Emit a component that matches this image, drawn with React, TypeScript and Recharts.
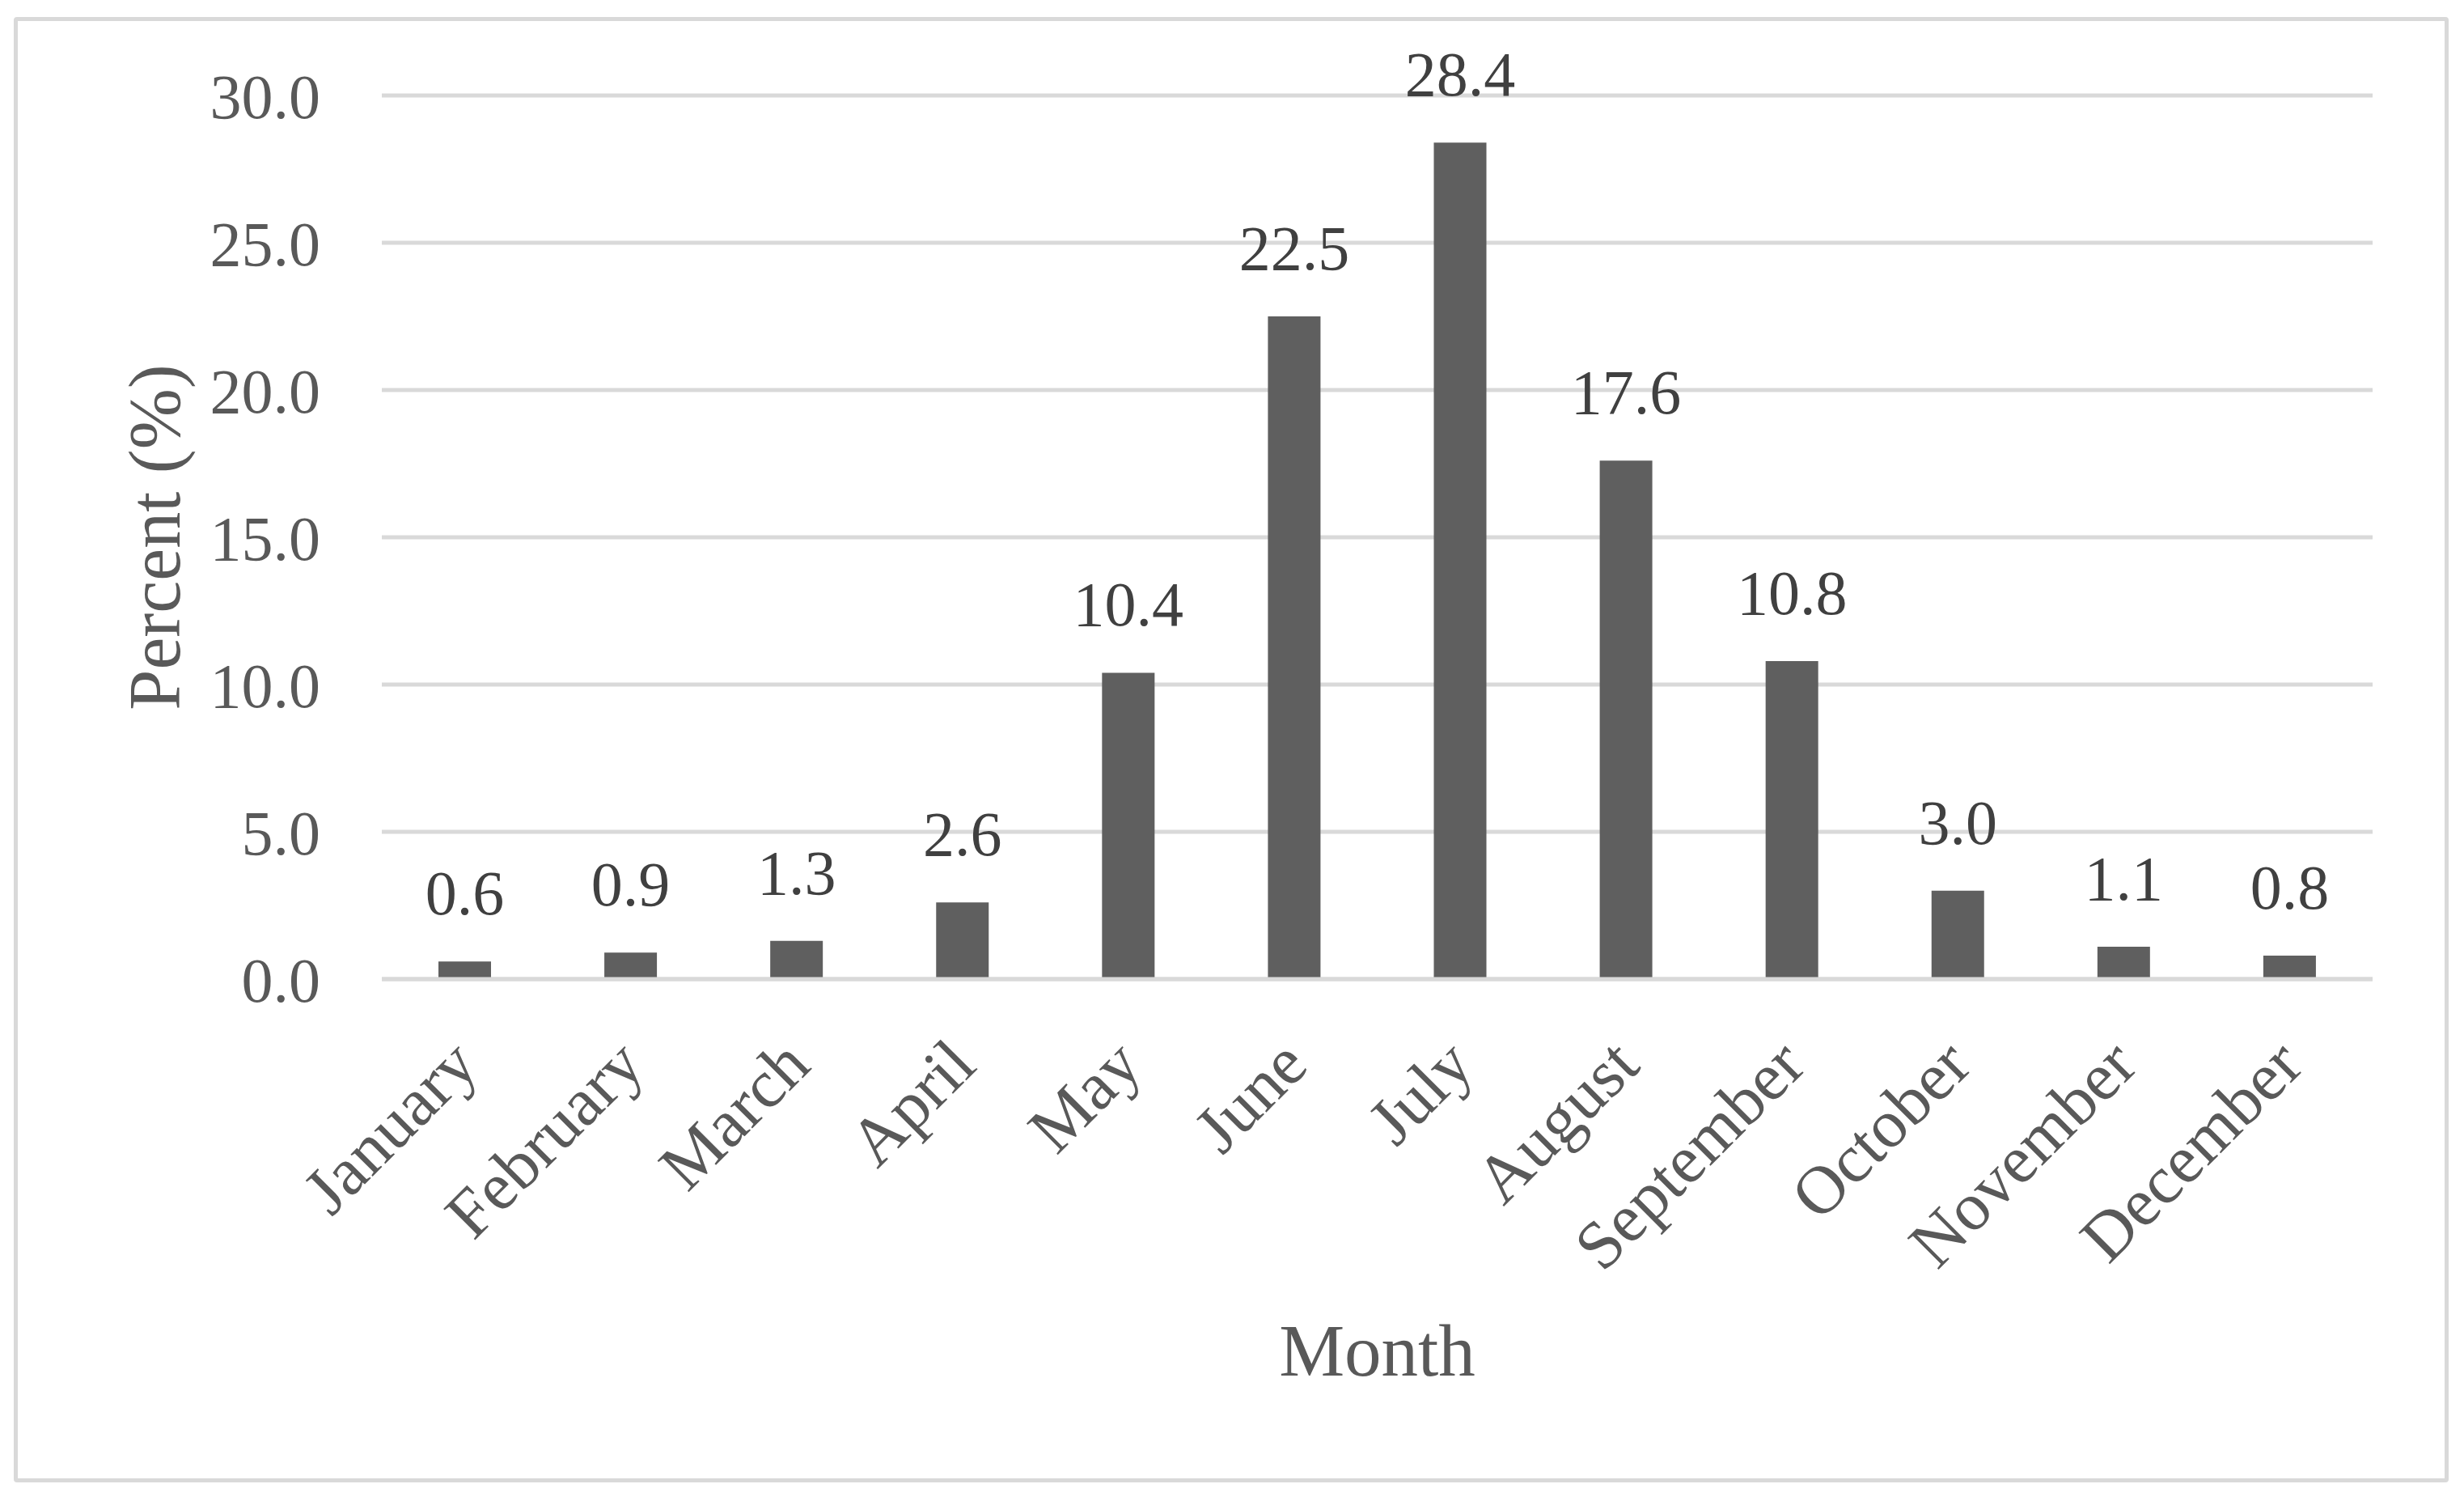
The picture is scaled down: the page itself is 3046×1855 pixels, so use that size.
import React from 'react';
import { BarChart, Bar, XAxis, YAxis, CartesianGrid, LabelList, Label } from 'recharts';

const months: string[] = [
  'January', 'February', 'March', 'April', 'May', 'June',
  'July', 'August', 'September', 'October', 'November', 'December',
];
const percents: number[] = [0.6, 0.9, 1.3, 2.6, 10.4, 22.5, 28.4, 17.6, 10.8, 3.0, 1.1, 0.8];
const yTicks: number[] = [0, 5, 10, 15, 20, 25, 30];
const xTitle = 'Month';
const yTitle = 'Percent (%)';

const data = months.map((m, i) => ({ month: m, value: percents[i] }));

const FONT = '"Liberation Serif", "Times New Roman", serif';
const AXIS_COLOR = '#595959';
const LABEL_COLOR = '#404040';
const GRID_COLOR = '#d9d9d9';
const BAR_COLOR = '#5f5f5f';

const MonthTick = (props: any) => {
  const { x, y, payload } = props;
  const ax = x + 20;
  const ay = y + 110;
  return (
    <text
      x={ax}
      y={ay}
      transform={`rotate(-45, ${ax}, ${ay})`}
      textAnchor="end"
      fill={AXIS_COLOR}
      fontSize={84}
      fontFamily={FONT}
    >
      {payload.value}
    </text>
  );
};

const YTitle = (props: any) => {
  const vb = props.viewBox || {};
  const cx = vb.x - 50;
  const cy = vb.y + vb.height / 2;
  return (
    <text
      x={cx}
      y={cy}
      transform={`rotate(-90, ${cx}, ${cy})`}
      textAnchor="middle"
      fill={AXIS_COLOR}
      fontSize={90}
      fontFamily={FONT}
    >
      {yTitle}
    </text>
  );
};

export default function App() {
  return (
    <div style={{ position: 'absolute', left: 0, top: 0, width: 3046, height: 1855, background: '#ffffff' }}>
      <div
        style={{
          position: 'absolute',
          left: 17,
          top: 21,
          width: 3000,
          height: 1801,
          border: `5px solid ${GRID_COLOR}`,
          borderRadius: 4,
        }}
      />
      <div style={{ position: 'absolute', left: 0, top: 0 }}>
        <BarChart
          width={3046}
          height={1855}
          data={data}
          margin={{ top: 118, right: 113, left: 272, bottom: 145 }}
          barSize={65}
        >
          <CartesianGrid vertical={false} stroke={GRID_COLOR} strokeWidth={5} />
          <XAxis
            dataKey="month"
            height={500}
            interval={0}
            tickLine={false}
            tickSize={0}
            tickMargin={0}
            axisLine={{ stroke: GRID_COLOR, strokeWidth: 5 }}
            tick={<MonthTick />}
          >
            <Label
              value={xTitle}
              position="insideBottom"
              offset={10}
              fill={AXIS_COLOR}
              fontSize={91}
              fontFamily={FONT}
            />
          </XAxis>
          <YAxis
            width={200}
            domain={[0, 30]}
            ticks={yTicks}
            interval={0}
            axisLine={false}
            tickLine={false}
            tickSize={0}
            tickMargin={76}
            tickFormatter={(v: number) => v.toFixed(1)}
            tick={{ fill: AXIS_COLOR, fontSize: 78, fontFamily: FONT }}
          >
            <Label content={<YTitle />} />
          </YAxis>
          <Bar dataKey="value" fill={BAR_COLOR} isAnimationActive={false}>
            <LabelList
              dataKey="value"
              position="top"
              offset={58}
              formatter={(v: any) => Number(v).toFixed(1)}
              fill={LABEL_COLOR}
              fontSize={78}
              fontFamily={FONT}
            />
          </Bar>
        </BarChart>
      </div>
    </div>
  );
}
